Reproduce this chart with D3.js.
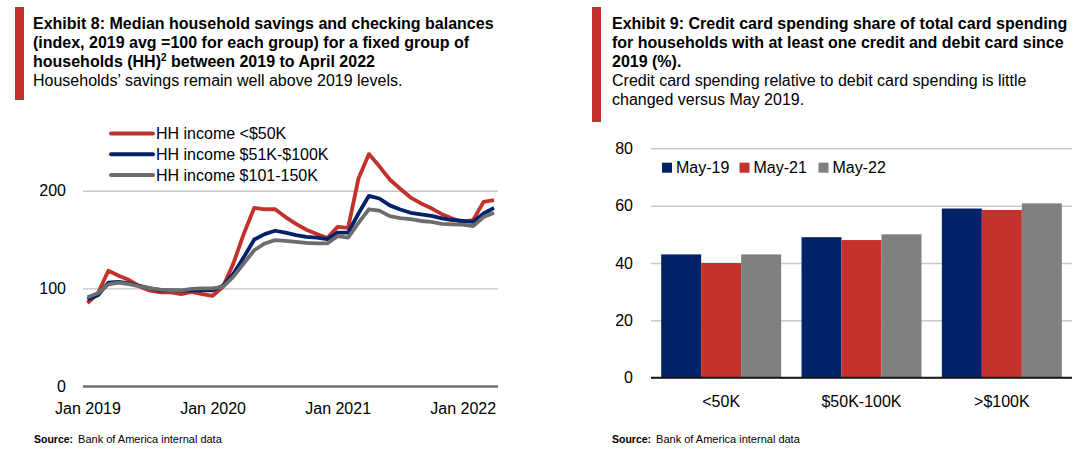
<!DOCTYPE html>
<html><head><meta charset="utf-8">
<script src="https://cdn.jsdelivr.net/npm/d3@7"></script>
<style>
body{margin:0;background:#fff;}
svg text{font-family:"Liberation Sans",Arial,Helvetica,sans-serif;fill:#000;}
</style></head><body>
<svg id="c" width="1089" height="455"></svg>
<script>
// ---------- DATA ----------
// Exhibit 8: monthly index, Jan 2019 .. Apr 2022
const monthLabels = d3.timeMonth.range(new Date(2019,0,1), new Date(2022,4,1)).map(d3.timeFormat("%b %Y"));
const xTickLabels = ["Jan 2019","Jan 2020","Jan 2021","Jan 2022"];
const yTicksLeft = [0,100,200];
const lineSeriesNames = ["HH income <$50K","HH income $51K-$100K","HH income $101-150K"];
const hhUnder50K = [85,95,118,113,108.5,102,97.6,96,96,94,96.5,94,92.4,101.6,125.6,156,182.5,181,181,173,166,160,155.6,151.5,163,162,212.5,237.5,225,211.5,202,193,187,182,176,171.6,168,170,188.6,190.4];
const hh51to100K = [88.7,93,105.8,106.7,105,102.6,100,98,98,97.6,98,98,98,102.6,115,132,150,155.6,159,157,154.5,152.8,152,150.4,157,157,176.7,194.8,192,185,180.8,177.4,175.7,174.3,171.6,170,169,168,176.7,182.5];
const hh101to150K = [90.8,95,104,105.8,104.4,102,100.3,98.6,98,98,99.4,100,100,101.6,112,125.6,139,146,149.4,148.7,147.6,146.6,146,146,153.5,152,167,181,179.6,174,172,171,169,168,166,165.6,165.3,163.7,173,177.4];

// Exhibit 9: credit card share (%)
const cardCategories = ["<50K","$50K-100K",">$100K"];
const cardSeriesNames = ["May-19","May-21","May-22"];
const may19 = [43,49,59];
const may21 = [40,48,58.5];
const may22 = [43,50,60.8];
const yTicksRight = [0,20,40,60,80];

// ---------- STYLE ----------
const RED = "#c3312b", NAVY = "#012169", GREYLINE = "#6d6d6d", GREYBAR = "#808080";
const svg = d3.select("#c");

// ---------- HEADERS ----------
function header(x, barX, barH, boldLines, regLines) {
  svg.append("rect").attr("x", barX).attr("y", 7).attr("width", 9).attr("height", barH).attr("fill", RED);
  let y = 29;
  boldLines.forEach(l => {
    const t = svg.append("text").attr("x", x).attr("y", y).attr("font-size", 16).attr("font-weight", "bold");
    if (Array.isArray(l)) {
      t.append("tspan").text(l[0]);
      t.append("tspan").attr("font-size", 10).attr("dy", -6).text(l[1]);
      t.append("tspan").attr("dy", 6).text(l[2]);
    } else t.text(l);
    y += 19;
  });
  regLines.forEach(l => {
    svg.append("text").attr("x", x).attr("y", y).attr("font-size", 16).text(l);
    y += 19;
  });
}
header(33, 15, 93,
  ["Exhibit 8: Median household savings and checking balances",
   "(index, 2019 avg =100 for each group) for a fixed group of",
   ["households (HH)", "2", " between 2019 to April 2022"]],
  ["Households\u2019 savings remain well above 2019 levels."]);
header(612, 592, 115,
  ["Exhibit 9: Credit card spending share of total card spending",
   "for households with at least one credit and debit card since",
   "2019 (%)."],
  ["Credit card spending relative to debit card spending is little",
   "changed versus May 2019."]);

// ---------- SOURCES ----------
function source(x) {
  const t = svg.append("text").attr("x", x).attr("y", 443).attr("font-size", 11);
  t.append("tspan").attr("font-weight", "bold").attr("font-size", 10.5).text("Source:");
  t.append("tspan").attr("dx", 5).text("Bank of America internal data");
}
source(34); source(612);

// ---------- LEFT: LINE CHART ----------
{
  const L = 83, R = 498, T = 141.9, B = 386;
  const x = d3.scalePoint().domain(monthLabels).range([87.5, 494]);
  const y = d3.scaleLinear().domain([0, 250]).range([B, T]);
  const g = svg.append("g");
  const ya = g.append("g").attr("transform", `translate(${L},0)`)
    .call(d3.axisLeft(y).tickValues(yTicksLeft).tickSize(-(R - L)).tickPadding(17).tickFormat(d3.format("d")));
  ya.select(".domain").remove();
  ya.selectAll(".tick line").attr("stroke", "#c6c6c6").attr("stroke-width", 1.4);
  ya.selectAll(".tick").filter(d => d === 0).select("line").attr("stroke", "#6f6f6f").attr("stroke-width", 2.6);
  ya.selectAll("text").attr("font-size", 16).attr("fill", "#000").style("font-family", "Liberation Sans, Arial, sans-serif");

  const xa = g.append("g").attr("transform", `translate(0,${B})`)
    .call(d3.axisBottom(x).tickValues(xTickLabels).tickSize(0).tickPadding(17));
  xa.select(".domain").remove();
  xa.selectAll("text").attr("font-size", 16).attr("fill", "#000").style("font-family", "Liberation Sans, Arial, sans-serif");

  const series = [
    {name: lineSeriesNames[0], values: hhUnder50K, color: RED},
    {name: lineSeriesNames[1], values: hh51to100K, color: NAVY},
    {name: lineSeriesNames[2], values: hh101to150K, color: GREYLINE}
  ];
  const line = d3.line().x((d, i) => x(monthLabels[i])).y(d => y(d));
  series.forEach(s => {
    g.append("path").datum(s.values).attr("d", line).attr("fill", "none")
      .attr("stroke", s.color).attr("stroke-width", 3.8).attr("stroke-linejoin", "round");
  });
  // legend
  series.forEach((s, i) => {
    const cy = 133.5 + i * 20.8;
    g.append("line").attr("x1", 111).attr("x2", 153).attr("y1", cy).attr("y2", cy)
      .attr("stroke", s.color).attr("stroke-width", 4).attr("stroke-linecap", "round");
    g.append("text").attr("x", 156).attr("y", cy).attr("dy", "0.36em").attr("font-size", 16).text(s.name);
  });
}

// ---------- RIGHT: BAR CHART ----------
{
  const L = 651, R = 1072, T = 148.3, B = 377.7;
  const x0 = d3.scaleBand().domain(cardCategories).range([L, R]).paddingInner(0.145).paddingOuter(0.0725);
  const x1 = d3.scaleBand().domain(cardSeriesNames).range([0, x0.bandwidth()]);
  const y = d3.scaleLinear().domain([0, 80]).range([B, T]);
  const colors = d3.scaleOrdinal().domain(cardSeriesNames).range([NAVY, RED, GREYBAR]);
  const valuesBySeries = {"May-19": may19, "May-21": may21, "May-22": may22};
  const g = svg.append("g");
  const ya = g.append("g").attr("transform", `translate(${L},0)`)
    .call(d3.axisLeft(y).tickValues(yTicksRight).tickSize(-(R - L)).tickPadding(18));
  ya.select(".domain").remove();
  ya.selectAll(".tick line").attr("stroke", "#c8c8c8").attr("stroke-width", 1.5);
  ya.selectAll("text").attr("font-size", 16).attr("fill", "#000").style("font-family", "Liberation Sans, Arial, sans-serif");

  cardCategories.forEach((c, ci) => {
    cardSeriesNames.forEach(sn => {
      const v = valuesBySeries[sn][ci];
      g.append("rect").attr("x", x0(c) + x1(sn)).attr("width", x1.bandwidth())
        .attr("y", y(v)).attr("height", y(0) - y(v)).attr("fill", colors(sn));
    });
  });
  g.append("line").attr("x1", L).attr("x2", R).attr("y1", y(0)).attr("y2", y(0))
    .attr("stroke", "#1a1a1a").attr("stroke-width", 2);

  const xa = g.append("g").attr("transform", `translate(0,${B})`)
    .call(d3.axisBottom(x0).tickSize(0).tickPadding(18));
  xa.select(".domain").remove();
  xa.selectAll("text").attr("font-size", 16).attr("fill", "#000").style("font-family", "Liberation Sans, Arial, sans-serif");

  // legend
  const legX = [662, 739.5, 818.5];
  cardSeriesNames.forEach((sn, i) => {
    g.append("rect").attr("x", legX[i]).attr("y", 162.7).attr("width", 10).attr("height", 10).attr("fill", colors(sn));
    g.append("text").attr("x", legX[i] + 14).attr("y", 167.7).attr("dy", "0.36em").attr("font-size", 16).text(sn);
  });
}
</script>
</body></html>
